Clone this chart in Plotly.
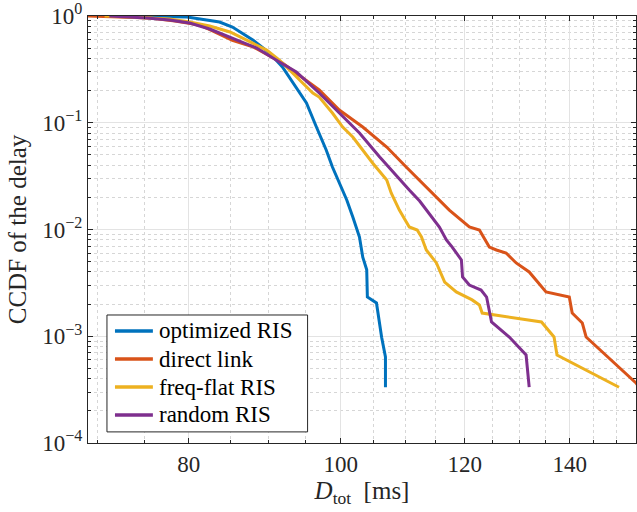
import numpy as np
import plotly.graph_objects as go

# ---- data (delay in ms, CCDF value) ----
opt_x = [73.9, 75.9, 79.8, 83.7, 85.3, 87.9, 90.1, 91.8, 93.2, 95.1, 96.5, 97.9, 98.8, 99.8, 100.3,
         100.9, 101.8, 102.8, 103.3, 103.9, 104.0, 105.4, 106.2, 106.8, 106.8]
opt_y = [1.0, 0.997, 0.979, 0.879, 0.789, 0.596, 0.450, 0.333, 0.236, 0.153, 0.0912, 0.0556, 0.0385,
         0.0273, 0.0234, 0.0189, 0.0131, 0.0085, 0.0055, 0.0042, 0.00233, 0.00205, 0.00098, 0.00064, 0.000333]

dir_x = [69.0, 75.6, 78.4, 81.3, 83.1, 85.3, 87.9, 90.5, 91.8, 96.9, 99.8, 103.3, 107.0, 110.1, 113.9,
         117.3, 120.8, 122.6, 124.4, 125.7, 127.5, 129.4, 131.9, 134.5, 135.2, 139.9, 140.5, 142.6, 143.4,
         154.3, 155.0]
dir_y = [1.0, 0.958, 0.898, 0.824, 0.708, 0.59, 0.515, 0.405, 0.363, 0.203, 0.1316, 0.0912, 0.0593,
         0.0385, 0.0234, 0.0152, 0.01055, 0.00989, 0.00685, 0.00643, 0.00602, 0.00486, 0.00400, 0.00289,
         0.00260, 0.00233, 0.00165, 0.00133, 0.000984, 0.000365, 0.000333]

ff_x = [70.7, 71.2, 77.8, 80.1, 82.5, 85.0, 89.7, 91.4, 96.0, 96.9, 98.8, 100.3, 101.8, 103.3, 104.8,
        107.0, 107.7, 109.0, 110.6, 111.9, 112.6, 113.4, 115.1, 116.5, 118.5, 121.3, 122.6, 123.1, 134.3,
        136.8, 137.4, 150.5]
ff_y = [1.0, 0.999, 0.937, 0.879, 0.806, 0.708, 0.480, 0.387, 0.190, 0.174, 0.1234, 0.0912, 0.0735,
        0.0556, 0.0420, 0.0291, 0.0220, 0.0152, 0.01055, 0.00989, 0.00851, 0.00643, 0.00486, 0.00322,
        0.00260, 0.00219, 0.00196, 0.00165, 0.00136, 0.000984, 0.000667, 0.000333]

rnd_x = [71.2, 75.2, 77.8, 80.1, 82.5, 85.0, 88.4, 91.4, 93.7, 96.9, 99.8, 102.8, 105.9, 107.9, 110.6,
         112.3, 113.9, 115.6, 116.8, 117.8, 119.4, 119.6, 120.8, 122.9, 123.9, 124.8, 128.1, 131.3, 131.9]
rnd_y = [1.0, 0.958, 0.917, 0.860, 0.755, 0.635, 0.501, 0.371, 0.299, 0.190, 0.1234, 0.0802, 0.0478,
         0.035, 0.0234, 0.0185, 0.014, 0.01055, 0.00797, 0.00685, 0.00518, 0.00359, 0.00302, 0.00271,
         0.00233, 0.00136, 0.000984, 0.000667, 0.000333]

series_names = ["optimized RIS", "direct link", "freq-flat RIS", "random RIS"]
series_colors = ["#0072BD", "#D95319", "#EDB120", "#7E2F8E"]

x_ticks = [80, 100, 120, 140]
x_minor = [70, 75, 85, 90, 95, 105, 110, 115, 125, 130, 135, 145, 150]
y_ticks = [1e-4, 1e-3, 1e-2, 1e-1, 1]
y_ticktext = ["10<sup>−4</sup>", "10<sup>−3</sup>", "10<sup>−2</sup>", "10<sup>−1</sup>", "10<sup>0</sup>"]
y_minor = [m * 10.0 ** e for e in range(-4, 0) for m in range(2, 10)]

x_range = [69.0, 154.3]
y_range = [1e-4, 1.0]

FONT = "Liberation Serif, DejaVu Serif, serif"
AX = "#262626"

fig = go.Figure()
for xs, ys, name, col in zip([opt_x, dir_x, ff_x, rnd_x], [opt_y, dir_y, ff_y, rnd_y],
                             series_names, series_colors):
    fig.add_trace(go.Scatter(x=xs, y=ys, mode="lines", name=name, showlegend=False,
                             line=dict(color=col, width=3)))

# ---- legend box (drawn in paper coordinates, lower-left of the axes) ----
L_X0, L_X1, L_Y0, L_Y1 = 0.0346, 0.4007, 0.026, 0.2998
row_y = [0.2623, 0.1967, 0.1311, 0.0656]
fig.add_shape(type="rect", xref="paper", yref="paper", x0=L_X0, x1=L_X1, y0=L_Y0, y1=L_Y1,
              line=dict(color=AX, width=1), fillcolor="white", layer="above")
for name, col, ry in zip(series_names, series_colors, row_y):
    fig.add_shape(type="line", xref="paper", yref="paper", x0=0.0492, x1=0.1184, y0=ry, y1=ry,
                  line=dict(color=col, width=3.5), layer="above")
    fig.add_annotation(xref="paper", yref="paper", x=0.1257, y=ry, text=name, showarrow=False,
                       xanchor="left", yanchor="middle",
                       font=dict(family=FONT, size=23, color="black"))

fig.update_layout(
    width=637, height=512, autosize=False,
    margin=dict(l=88, r=0, t=16, b=69),
    paper_bgcolor="white", plot_bgcolor="white",
    font=dict(family=FONT, size=23, color=AX),
    showlegend=False,
)

fig.update_xaxes(
    type="log", range=[np.log10(x_range[0]), np.log10(x_range[1])],
    tickvals=x_ticks, ticktext=[str(v) for v in x_ticks],
    ticks="inside", ticklen=5, tickcolor=AX, showline=True, linecolor=AX, linewidth=1,
    mirror="ticks", showgrid=True, gridcolor="#e3e3e3", gridwidth=1, zeroline=False,
    minor=dict(tickvals=x_minor, ticks="inside", ticklen=3, tickcolor=AX, showgrid=True,
               gridcolor="#d6d6d6", griddash="dot", gridwidth=1),
    tickfont=dict(family=FONT, size=23, color=AX),
    title=dict(text="<i>D</i><sub>tot</sub>  [ms]", font=dict(family=FONT, size=25, color=AX), standoff=4),
)
fig.update_yaxes(
    type="log", range=[np.log10(y_range[0]), np.log10(y_range[1])],
    tickvals=y_ticks, ticktext=y_ticktext,
    ticks="inside", ticklen=5, tickcolor=AX, showline=True, linecolor=AX, linewidth=1,
    mirror="ticks", showgrid=True, gridcolor="#e3e3e3", gridwidth=1, zeroline=False,
    minor=dict(tickvals=y_minor, ticks="inside", ticklen=3, tickcolor=AX, showgrid=True,
               gridcolor="#d6d6d6", griddash="dot", gridwidth=1),
    tickfont=dict(family=FONT, size=23, color=AX),
    title=dict(text="CCDF of the delay", font=dict(family=FONT, size=25, color=AX), standoff=8),
)

post = ("document.body.style.margin='0';document.body.style.overflow='hidden';"
        "var gd=document.getElementById('{plot_id}');"
        "Plotly.relayout(gd,{width:637,height:512});")
fig.write_html("out.html", config={"responsive": False, "displayModeBar": False}, post_script=post)
